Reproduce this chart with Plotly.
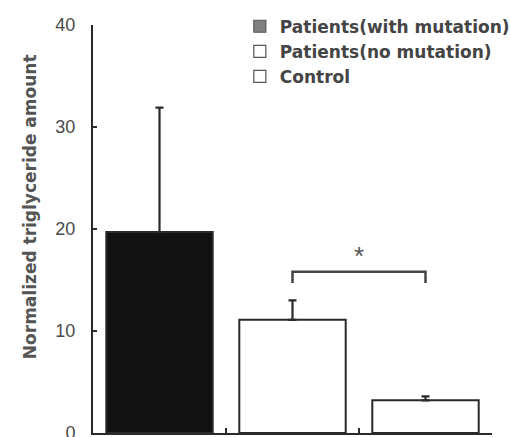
import plotly.graph_objects as go

# ---- data ----
categories = ["Patients(with mutation)", "Patients(no mutation)", "Control"]
means = [19.7, 11.1, 3.2]
errors = [12.2, 1.9, 0.4]
fill_colors = ["#111111", "#ffffff", "#ffffff"]
legend_colors = ["#808080", "#ffffff", "#ffffff"]
y_ticks = [0, 10, 20, 30, 40]
sig_pair = [1, 2]          # category indices compared
sig_top = 15.8
sig_drop = 14.7
sig_label = "*"
sig_label_y = 17.4

fig = go.Figure()
for cat, m, e, fc in zip(categories, means, errors, fill_colors):
    fig.add_trace(go.Bar(
        x=[cat], y=[m], width=0.8, showlegend=False,
        marker=dict(color=fc, line=dict(color="#2a2a2a", width=2)),
        error_y=dict(type="data", array=[e], arrayminus=[0], symmetric=False,
                     color="#2a2a2a", thickness=2.2, width=4),
    ))
# legend-only entries
for cat, lc in zip(categories, legend_colors):
    fig.add_trace(go.Bar(
        x=[None], y=[None], name=f"<b>{cat}</b>", showlegend=True,
        marker=dict(color=lc, line=dict(color="#555555", width=1.2)),
    ))

# significance bracket
fig.add_shape(type="path",
              path=f"M {sig_pair[0]},{sig_drop} L {sig_pair[0]},{sig_top} L {sig_pair[1]},{sig_top} L {sig_pair[1]},{sig_drop}",
              xref="x", yref="y", line=dict(color="#444444", width=2.5))
fig.add_annotation(x=(sig_pair[0] + sig_pair[1]) / 2, y=sig_label_y, xref="x", yref="y",
                   text=sig_label, showarrow=False,
                   font=dict(size=26, color="#555555", family="Liberation Sans"))

# y-axis title as annotation
fig.add_annotation(x=-0.188, y=0.556, xref="paper", yref="paper",
                   text="<b>Normalized triglyceride amount</b>", textangle=-90,
                   showarrow=False,
                   font=dict(size=17, color="#555555", family="DejaVu Sans"))

fig.update_layout(
    width=510, height=437,
    margin=dict(l=93, r=18, t=25, b=4, autoexpand=False),
    paper_bgcolor="white", plot_bgcolor="white",
    barmode="overlay",
    font=dict(family="Liberation Sans", color="#444444"),
    legend=dict(x=0.368, y=1.04, xanchor="left", yanchor="top",
                font=dict(size=17, color="#444444", family="DejaVu Sans"),
                bgcolor="rgba(0,0,0,0)", tracegroupgap=0, traceorder="normal"),
    showlegend=True,
    xaxis=dict(type="category", categoryorder="array", categoryarray=categories,
               range=[-0.5, 2.5], showticklabels=False, automargin=False,
               ticks="inside", tickson="boundaries", ticklen=5, tickwidth=2,
               tickcolor="#2a2a2a", showline=True, linecolor="#2a2a2a",
               linewidth=2, showgrid=False, zeroline=False),
    yaxis=dict(range=[0, 40], tickvals=y_ticks, ticks="inside", ticklen=4,
               tickwidth=2, tickcolor="#2a2a2a", showline=True, automargin=False,
               linecolor="#2a2a2a", linewidth=2, showgrid=False, zeroline=False,
               tickfont=dict(size=18, color="#4a4a4a", family="Liberation Sans"),
               ticklabelstandoff=12, ticklabeloverflow="allow"),
)

fig.write_html("out.html", config={"displayModeBar": False},
               post_script="document.body.style.margin='0';document.body.style.overflow='hidden';")
